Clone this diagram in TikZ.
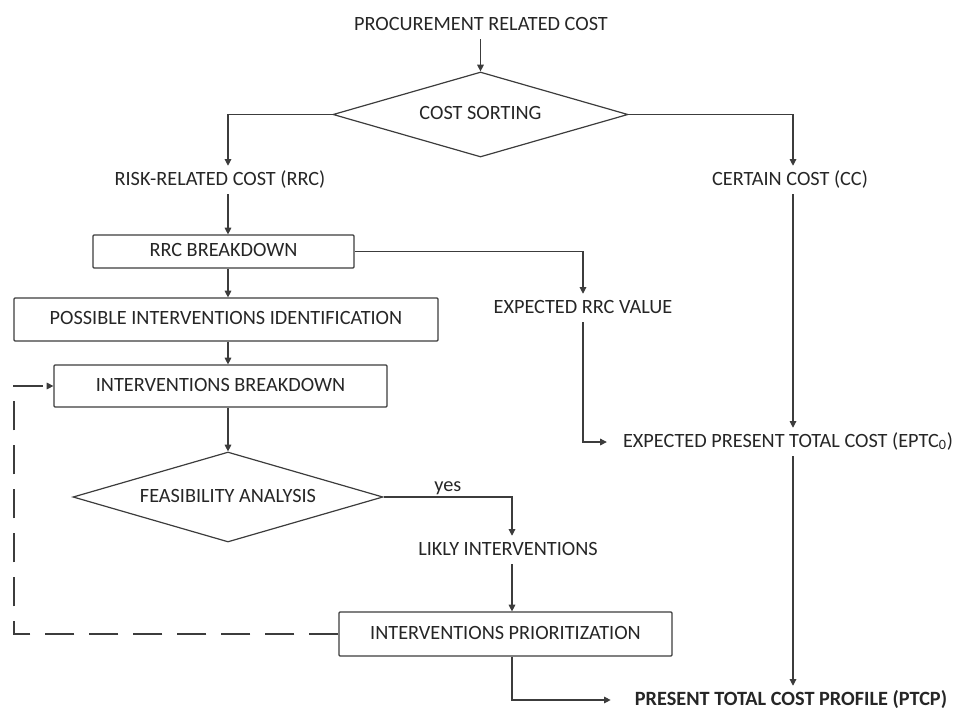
\documentclass[tikz,border=0pt]{standalone}
\usepackage{fontspec}
\setmainfont{Carlito}
\usetikzlibrary{shapes.geometric,arrows.meta}
\definecolor{linegray}{HTML}{3C3C3C}
\definecolor{textgray}{HTML}{262626}
\begin{document}
\begin{tikzpicture}
	[x=0.75pt,y=-0.75pt,
	every node/.style={text=textgray,font=\fontsize{15.2}{18}\selectfont,
		text height=10pt,text depth=2.5pt,inner ysep=4.25pt,inner xsep=12pt},
	stepbox/.style={draw=linegray,line width=0.9pt,rounded corners=0.8pt,
		inner ysep=0pt},
	decision/.style={diamond,draw=linegray,line width=0.9pt,inner sep=0pt},
	arr/.style={draw=linegray,line width=0.8pt,-{Triangle[length=5pt,width=5pt]}}]
	\useasboundingbox (0,0) rectangle (957,711);
	% cost sorting
	\node (proc) at (481,25) {PROCUREMENT RELATED COST};
	\node [decision,minimum width=221.25pt,minimum height=63.75pt,aspect=3.47]
		(sort) at (480.5,114.5) {COST SORTING};
	\node (rrc) at (220,180) {RISK-RELATED COST (RRC)};
	\node (cc) at (790,180) {CERTAIN COST (CC)};
	% risk related branch
	\node [stepbox,minimum width=195.75pt,minimum height=24.75pt]
		(rrcb) at (223.5,251.5) {RRC BREAKDOWN};
	\node (erv) at (583,308) {EXPECTED RRC VALUE};
	\node [stepbox,minimum width=318pt,minimum height=32.25pt]
		(pii) at (226,319.5) {POSSIBLE INTERVENTIONS IDENTIFICATION};
	\node [stepbox,minimum width=249.75pt,minimum height=31.5pt]
		(ib) at (220.5,386) {INTERVENTIONS BREAKDOWN};
	\node [decision,minimum width=232.5pt,minimum height=67.5pt,aspect=3.44]
		(fa) at (228,497) {FEASIBILITY ANALYSIS};
	\node (li) at (508,550) {LIKLY INTERVENTIONS};
	\node [stepbox,minimum width=249.75pt,minimum height=33pt]
		(prio) at (505.5,634) {INTERVENTIONS PRIORITIZATION};
	% totals
	\node (eptc) at (788,442) {EXPECTED PRESENT TOTAL COST (EPTC\textsubscript{0})};
	\node [font=\fontsize{15.2}{18}\selectfont\bfseries,inner xsep=18pt]
		(ptcp) at (791,700) {PRESENT TOTAL COST PROFILE (PTCP)};
	\coordinate (loop) at (14,634);
	% connectors
	\draw[arr] (proc.south -| sort.north) -- (sort.north);
	\draw[arr] (sort.west) -| (rrc.north -| fa.north);
	\draw[arr] (sort.east) -| (cc.north -| 793,0);
	\draw[arr] (rrc.south -| fa.north) -- (rrcb.north -| fa.north);
	\draw[arr] (rrcb.east) -| (erv.north);
	\draw[arr] (rrcb.south -| fa.north) -- (pii.north -| fa.north);
	\draw[arr] (pii.south -| fa.north) -- (ib.north -| fa.north);
	\draw[arr] (ib.south -| fa.north) -- (fa.north);
	\draw[arr] (fa.east) -| node[pos=0.25,above=-3pt] {yes} (li.north -| 512,0);
	\draw[arr] (li.south -| 512,0) -- (prio.north -| 512,0);
	\draw[arr] (erv.south) |- (eptc.west);
	\draw[arr] (cc.south -| 793,0) -- (eptc.north -| 793,0);
	\draw[arr] (eptc.south -| 793,0) -- (ptcp.north -| 793,0);
	\draw[arr] (prio.south -| 512,0) |- (ptcp.west);
	\draw[arr,dash pattern=on 22pt off 11pt] (prio.west) -- (loop) |- (ib.west);
\end{tikzpicture}
\end{document}
